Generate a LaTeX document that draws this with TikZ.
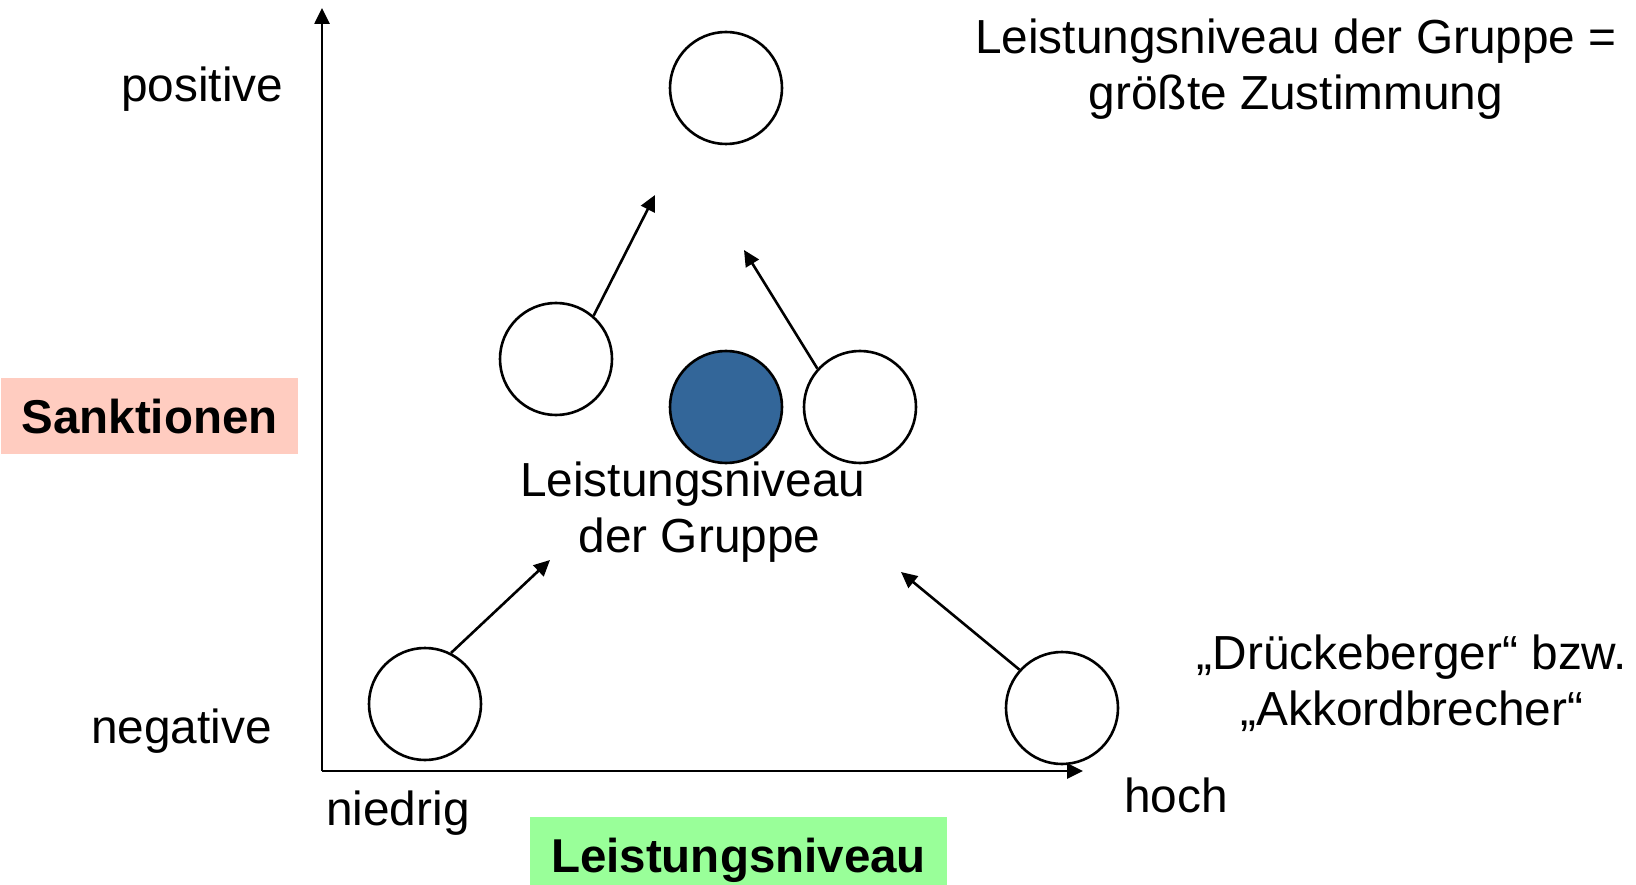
\documentclass[tikz,border=0pt]{standalone}
\usepackage{fontspec}
\setmainfont{Liberation Sans}
\usetikzlibrary{arrows.meta}
\definecolor{sankrose}{HTML}{FFCCC0}
\definecolor{leistgreen}{HTML}{99FF99}
\definecolor{dotblue}{HTML}{336699}
\begin{document}
\begin{tikzpicture}[x=1pt,y=-1pt,
  txt/.style={inner sep=0pt, font=\fontsize{47.8}{56}\selectfont},
  tag/.style={inner sep=0pt, text height=34pt, text depth=0pt,
    font=\fontsize{47.5}{56}\selectfont\bfseries},
  ball/.style={circle, draw=black, line width=2.6pt, fill=white,
    minimum size=112pt, inner sep=0pt},
  link/.style={line width=2.6pt, -{Triangle[length=16pt,width=15pt]}},
  axisline/.style={line width=2.6pt, -{Triangle[length=16pt,width=15pt]}}]
\useasboundingbox (0,0) rectangle (1636,885);

% axes
\coordinate (O) at (322,771);
\coordinate (ytip) at (322,8);
\coordinate (xtip) at (1083,771);
\draw[axisline] (O) -- (ytip);
\draw[axisline] (O) -- (xtip);

% axis titles
\node[tag, fill=sankrose, minimum width=297pt, minimum height=76pt]
  (sank) at (149.5,416) {Sanktionen};
\node[tag, fill=leistgreen, minimum width=417pt, minimum height=76pt]
  (leist) at (738.5,855) {Leistungsniveau};

% axis labels
\node[txt, anchor=base east] (pos) at (283.5,101.7) {positive};
\node[txt, anchor=base east] (neg) at (272,743) {negative};
\node[txt, anchor=base west] (low) at (326,825) {niedrig};
\node[txt, anchor=base west] (high) at (1124,812) {hoch};

% members
\node[ball] (top) at (726,88) {};
\node[ball] (ml) at (556,359) {};
\node[ball, fill=dotblue] (grp) at (726,407) {};
\node[ball] (mr) at (860,407) {};
\node[ball] (bl) at (425,704) {};
\node[ball] (br) at (1062,708) {};

% movements towards the group norm
\coordinate (e1) at (655,195);
\coordinate (e2) at (744,250);
\coordinate (e3) at (550,560);
\coordinate (e4) at (901,572);
\draw[link] (ml.49) -- (e1);
\draw[link] (mr.138) -- (e2);
\draw[link] (bl.63) -- (e3);
\draw[link] (br.138) -- (e4);

% captions (base anchor sits on the last line)
\node[txt, align=center, anchor=base] (grplab) at (699.5,552)
  {Leistungsniveau\hspace*{0.278em}\\der Gruppe};
\node[txt, align=center, anchor=base] (norm) at (1296,110)
  {Leistungsniveau der Gruppe =\\größte Zustimmung};
\node[txt, align=center, anchor=base] (dev) at (1412,725)
  {„Drückeberger“ bzw.\\„Akkordbrecher“};
\end{tikzpicture}
\end{document}
